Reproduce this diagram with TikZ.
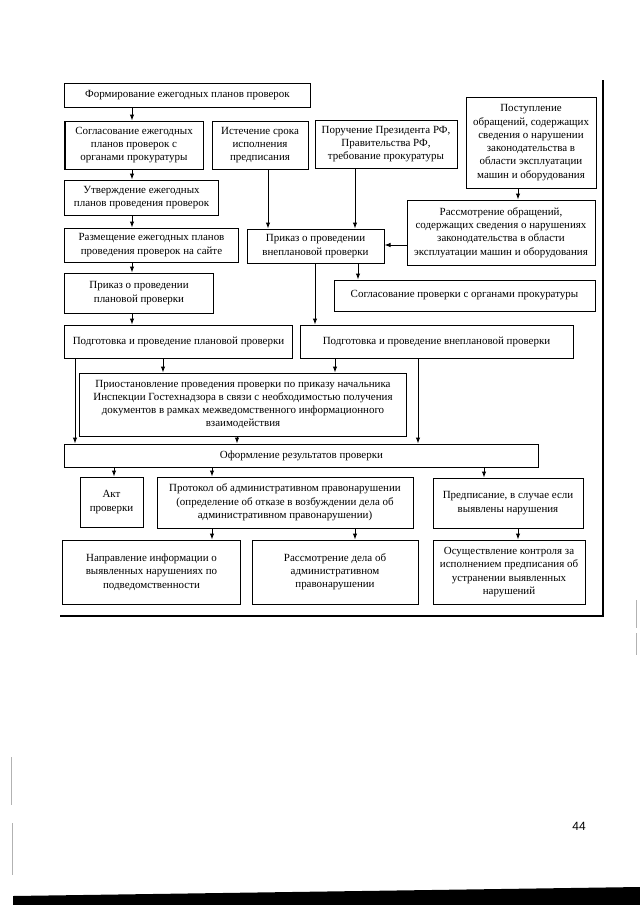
\documentclass[tikz,border=0pt]{standalone}
\usepackage{fontspec}
\setmainfont{Liberation Serif}
\newfontfamily\pgnumfont{Liberation Sans}
\usetikzlibrary{arrows.meta}
\newcommand\boxat[6]{\node[bx, minimum width={#4bp-#2bp}, minimum height={#5bp-#3bp}] (#1) at ({(#2+#4)/2},{(#3+#5)/2}) {#6};}
\begin{document}
\begin{tikzpicture}[x=1bp,y=-1bp,
  bx/.style={draw, line width=1bp, inner sep=0pt, align=center,
             font=\fontsize{11}{13.3}\selectfont},
  arr/.style={-{Latex[length=6bp,width=4.5bp]}, line width=1bp},
  frameline/.style={line width=1.8bp},
  scanline/.style={gray!60, line width=0.6bp}
]
\fill[white] (0,0) rectangle (640,905);
\useasboundingbox (0,0) rectangle (640,905);

% boxes
\boxat{b1}{65}{83}{310}{107}{Формирование ежегодных планов проверок}
\boxat{b2}{65}{121}{203}{169}{Согласование ежегодных\\планов проверок с\\органами прокуратуры}
\boxat{b3}{212}{121}{308}{169}{Истечение срока\\исполнения\\предписания}
\boxat{b4}{315}{120}{457}{168}{Поручение Президента РФ,\\Правительства РФ,\\требование прокуратуры}
\boxat{b5}{466}{97}{596}{188}{Поступление\\обращений, содержащих\\сведения о нарушении\\законодательства в\\области эксплуатации\\машин и оборудования}
\boxat{b6}{65}{180}{218}{215}{Утверждение ежегодных\\планов проведения проверок}
\boxat{b7}{65}{228}{238}{262}{Размещение ежегодных планов\\проведения проверок на сайте}
\boxat{b8}{65}{273}{213}{313}{Приказ о проведении\\плановой проверки}
\boxat{b9}{247}{229}{384}{263}{Приказ о проведении\\внеплановой проверки}
\boxat{b10}{65}{325}{292}{358}{Подготовка и проведение плановой проверки}
\boxat{b11}{407}{200}{595}{265}{Рассмотрение обращений,\\содержащих сведения о нарушениях\\законодательства в области\\эксплуатации машин и оборудования}
\boxat{b12}{334}{280}{595}{311}{Согласование проверки с органами прокуратуры}
\boxat{b13}{300}{325}{573}{358}{Подготовка и проведение внеплановой проверки}
\boxat{b14}{80}{373}{406}{436}{Приостановление проведения проверки по приказу начальника\\Инспекции Гостехнадзора в связи с необходимостью получения\\документов в рамках межведомственного информационного\\взаимодействия}
\boxat{b15}{65}{444}{538}{467}{Оформление результатов проверки}
\boxat{b16}{80}{477}{143}{527}{Акт\\проверки}
\boxat{b17}{157}{477}{413}{528}{Протокол об административном правонарушении\\(определение об отказе в возбуждении дела об\\административном правонарушении)}
\boxat{b18}{433}{478}{583}{528}{Предписание, в случае если\\выявлены нарушения}
\boxat{b19}{63}{540}{240}{604}{Направление информации о\\выявленных нарушениях по\\подведомственности}
\boxat{b20}{252}{540}{418}{604}{Рассмотрение дела об\\административном\\правонарушении}
\boxat{b21}{433}{540}{585}{604}{Осуществление контроля за\\исполнением предписания об\\устранении выявленных\\нарушений}

% connectors
\draw[arr] (b1.south -| 132,0) -- (b2.north -| 132,0);
\draw[arr] (b2.south -| 132,0) -- (b6.north -| 132,0);
\draw[arr] (b6.south -| 132,0) -- (b7.north -| 132,0);
\draw[arr] (b7.south -| 132,0) -- (b8.north -| 132,0);
\draw[arr] (b8.south -| 132,0) -- (b10.north -| 132,0);
\draw[arr] (b3.south -| 268,0) -- (b9.north -| 268,0);
\draw[arr] (b4.south -| 355,0) -- (b9.north -| 355,0);
\draw[arr] (b5.south -| 518,0) -- (b11.north -| 518,0);
\draw[arr] (b11.west |- 0,245) -- (b9.east |- 0,245);
\draw[arr] (b9.south -| 315,0) -- (b13.north -| 315,0);
\draw[arr] (b9.south -| 358,0) -- (b12.north -| 358,0);
\draw[arr] (b10.south -| 163,0) -- (b14.north -| 163,0);
\draw[arr] (b13.south -| 335,0) -- (b14.north -| 335,0);
\draw[arr] (b10.south -| 75,0) -- (b15.north -| 75,0);
\draw[arr] (b13.south -| 418,0) -- (b15.north -| 418,0);
\draw[arr] (b14.south -| 237,0) -- (b15.north -| 237,0);
\draw[arr] (b15.south -| 114,0) -- (b16.north -| 114,0);
\draw[arr] (b15.south -| 212,0) -- (b17.north -| 212,0);
\draw[arr] (b15.south -| 484,0) -- (b18.north -| 484,0);
\draw[arr] (b17.south -| 212,0) -- (b19.north -| 212,0);
\draw[arr] (b17.south -| 355,0) -- (b20.north -| 355,0);
\draw[arr] (b18.south -| 518,0) -- (b21.north -| 518,0);

% frame
\draw[frameline] (603,80) -- (603,616) -- (60,616);

% page furniture
\node[font=\pgnumfont\fontsize{12}{14}\selectfont] (pg) at (579,826) {44};
\draw[scanline] (11,757) -- (11,805);
\draw[scanline] (12,823) -- (12,875);
\draw[scanline] (636,600) -- (636,628);
\draw[scanline] (636,633) -- (636,655);
\fill[black] (13,896) -- (640,887) -- (640,905) -- (13,905) -- cycle;
\end{tikzpicture}
\end{document}
